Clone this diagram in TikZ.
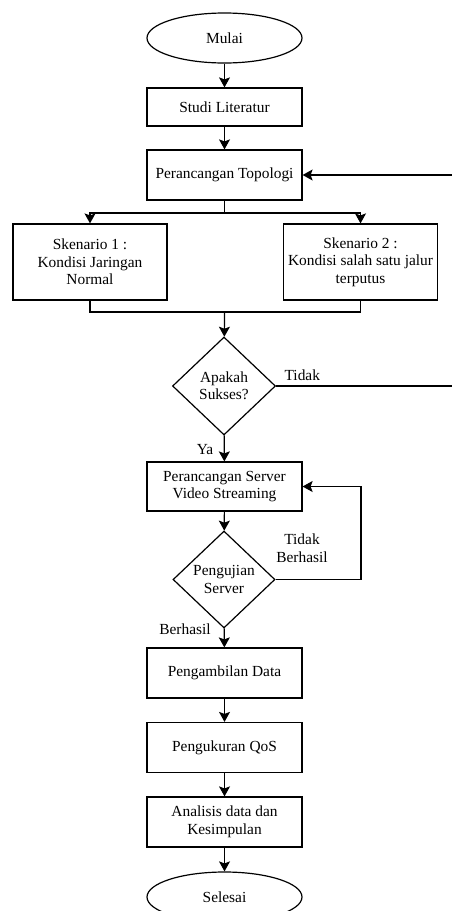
\documentclass[tikz,border=0pt]{standalone}
\usepackage{fontspec}
\setmainfont{Liberation Serif}
\usetikzlibrary{shapes.geometric}
\usetikzlibrary{arrows.meta}

\begin{document}
\begin{tikzpicture}[x=1pt, y=-1pt, line width=1.2pt,
	every node/.style={font=\fontsize{15.4}{17.5}\selectfont, align=center},
	terminal/.style={draw, ellipse, minimum width=155pt, minimum height=50pt, inner sep=0pt},
	process/.style={draw, rectangle, minimum width=155pt, minimum height=50pt, inner sep=0pt},
	decision/.style={draw, diamond, minimum width=103pt, minimum height=98pt, inner sep=0pt},
	lbl/.style={inner sep=0pt},
	flow/.style={-{Stealth[length=10pt, width=11pt, inset=2pt]}}]
	% page size 452 x 911
	\useasboundingbox (0,0) rectangle (452,911);
	% start and preparation
	\node[terminal] (mulai) at (224.5,38) {Mulai};
	\node[process, minimum height=38pt] (studi) at (224.5,107) {Studi Literatur};
	\node[process] (topologi) at (224.5,175) {Perancangan Topologi};
	% two scenarios
	\node[process, minimum width=154pt, minimum height=76pt] (sken1) at (90,262) {Skenario 1 :\\Kondisi Jaringan\\Normal};
	\node[process, minimum width=154pt, minimum height=76pt] (sken2) at (360.5,262) {Skenario 2 :\\Kondisi salah satu jalur\\terputus};
	\node[decision] (sukses) at (224,386) {Apakah\\Sukses?};
	% server
	\node[process, minimum height=49pt] (server) at (224.5,486.5) {Perancangan Server\\Video Streaming};
	\node[decision, minimum width=102pt, minimum height=97pt] (uji) at (224,579.5) {Pengujian\\Server};
	% data and results
	\node[process] (ambil) at (224.5,673) {Pengambilan Data};
	\node[process] (qos) at (224.5,747.5) {Pengukuran QoS};
	\node[process] (analisis) at (224.5,822) {Analisis data dan\\Kesimpulan};
	\node[terminal] (selesai) at (224.5,897) {Selesai};
	% labels
	\node[lbl, anchor=west] (tidak) at (284,375) {Tidak};
	\node[lbl] (ya) at (205,450) {Ya};
	\node[lbl] (gagal) at (302,548) {Tidak\\Berhasil};
	\node[lbl] (berhasil) at (185,629) {Berhasil};
	% helper points
	\coordinate (cabang) at (224.5,213);
	\coordinate (gabung) at (224.5,312);
	\coordinate (balik) at (457,386);
	\coordinate (ulang) at (361,579.5);
	% connectors
	\draw[flow] (mulai) -- (studi);
	\draw[flow] (studi) -- (topologi);
	\draw (topologi) -- (cabang);
	\draw[flow] (cabang) -| (sken1);
	\draw[flow] (cabang) -| (sken2);
	\draw (sken1) |- (gabung);
	\draw (sken2) |- (gabung);
	\draw[flow] (gabung) -- (sukses);
	\draw[flow] (sukses.east) -- (balik) |- (topologi.east);
	\draw[flow] (sukses) -- (server);
	\draw[flow] (server) -- (uji);
	\draw[flow] (uji.east) -- (ulang) |- (server.east);
	\draw[flow] (uji) -- (ambil);
	\draw[flow] (ambil) -- (qos);
	\draw[flow] (qos) -- (analisis);
	\draw[flow] (analisis) -- (selesai);
\end{tikzpicture}
\end{document}
